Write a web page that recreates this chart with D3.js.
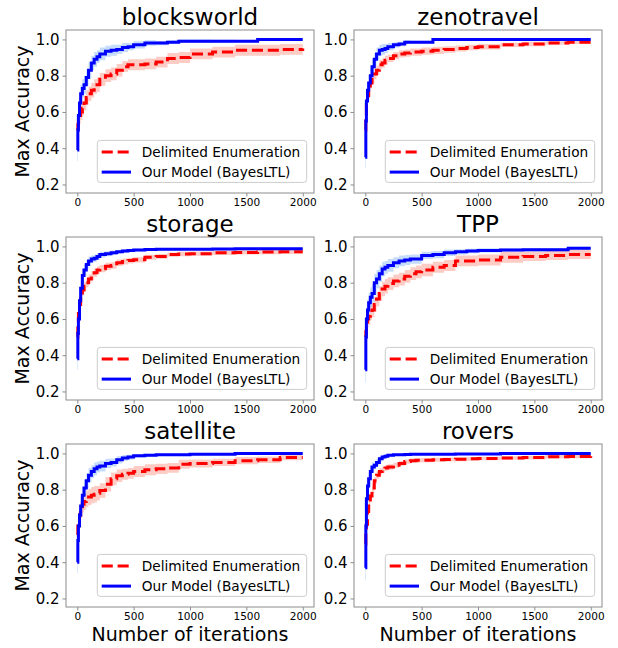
<!DOCTYPE html>
<html><head><meta charset="utf-8">
<script src="https://cdn.jsdelivr.net/npm/d3@7"></script>
<style>body{margin:0;background:#fff}svg{display:block}text{font-family:"DejaVu Sans",sans-serif}</style>
</head><body><svg id="c" width="618" height="648"></svg>
<script>
const iterations = [0,5,10,20,30,45,60,80,100,125,150,175,200,250,300,350,400,450,500,600,700,800,900,1000,1200,1400,1600,1800,2000];
const panelTitles = ["blocksworld","zenotravel","storage","TPP","satellite","rovers"];
const seriesNames = ["Delimited Enumeration","Our Model (BayesLTL)"];
const xTicks = [0,500,1000,1500,2000];
const yTicks = [0.2,0.4,0.6,0.8,1.0];

const blocksworldDelimited = [0.50,0.53,0.55,0.58,0.60,0.62,0.65,0.68,0.70,0.72,0.74,0.75,0.78,0.80,0.81,0.83,0.85,0.86,0.86,0.865,0.875,0.895,0.90,0.92,0.93,0.94,0.94,0.945,0.95];
const blocksworldDelimitedSpread = [0.05,0.05,0.05,0.045,0.045,0.04,0.04,0.04,0.04,0.04,0.04,0.04,0.035,0.035,0.035,0.035,0.03,0.03,0.03,0.03,0.03,0.03,0.03,0.03,0.03,0.03,0.03,0.03,0.03];
const blocksworldBayes = [0.39,0.50,0.58,0.65,0.70,0.73,0.75,0.79,0.83,0.87,0.89,0.905,0.92,0.935,0.94,0.945,0.955,0.96,0.97,0.98,0.98,0.985,0.99,0.99,0.99,0.99,1.0,1.0,1.0];
const blocksworldBayesSpread = [0.06,0.06,0.06,0.05,0.05,0.05,0.05,0.045,0.045,0.04,0.04,0.035,0.035,0.03,0.03,0.025,0.025,0.02,0.02,0.015,0.012,0.01,0.01,0.01,0.008,0.006,0.004,0.004,0.004];

const zenotravelDelimited = [0.50,0.58,0.64,0.69,0.72,0.76,0.79,0.81,0.83,0.86,0.87,0.885,0.895,0.91,0.92,0.925,0.93,0.93,0.935,0.94,0.945,0.95,0.955,0.96,0.97,0.975,0.98,0.985,0.987];
const zenotravelDelimitedSpread = [0.04,0.04,0.035,0.035,0.03,0.03,0.03,0.03,0.025,0.025,0.025,0.025,0.02,0.02,0.02,0.02,0.02,0.02,0.02,0.02,0.018,0.016,0.015,0.015,0.012,0.012,0.01,0.01,0.01];
const zenotravelBayes = [0.35,0.55,0.66,0.72,0.76,0.80,0.85,0.89,0.92,0.94,0.945,0.95,0.96,0.97,0.975,0.985,0.985,0.985,0.985,1.0,1.0,1.0,1.0,1.0,1.0,1.0,1.0,1.0,1.0];
const zenotravelBayesSpread = [0.06,0.05,0.05,0.045,0.045,0.04,0.04,0.035,0.035,0.03,0.03,0.025,0.02,0.015,0.012,0.01,0.008,0.008,0.008,0.004,0.003,0.003,0.003,0.003,0.003,0.003,0.003,0.003,0.003];

const storageDelimited = [0.50,0.58,0.63,0.68,0.72,0.76,0.78,0.80,0.82,0.84,0.855,0.87,0.877,0.89,0.895,0.91,0.917,0.922,0.927,0.94,0.945,0.955,0.958,0.96,0.965,0.967,0.969,0.97,0.97];
const storageDelimitedSpread = [0.04,0.04,0.035,0.03,0.03,0.03,0.025,0.025,0.025,0.025,0.022,0.02,0.02,0.02,0.018,0.018,0.016,0.016,0.015,0.014,0.013,0.012,0.012,0.012,0.012,0.012,0.012,0.012,0.012];
const storageBayes = [0.38,0.52,0.60,0.70,0.77,0.84,0.87,0.90,0.92,0.93,0.935,0.945,0.955,0.96,0.965,0.97,0.975,0.978,0.98,0.983,0.985,0.985,0.985,0.985,0.986,0.987,0.987,0.987,0.987];
const storageBayesSpread = [0.06,0.05,0.05,0.045,0.04,0.035,0.03,0.025,0.025,0.02,0.02,0.018,0.016,0.014,0.012,0.01,0.01,0.008,0.008,0.006,0.006,0.006,0.006,0.006,0.006,0.006,0.006,0.006,0.006];

const tppDelimited = [0.50,0.53,0.56,0.60,0.615,0.635,0.65,0.68,0.71,0.74,0.765,0.78,0.795,0.81,0.82,0.835,0.85,0.86,0.87,0.885,0.895,0.92,0.92,0.925,0.94,0.945,0.95,0.955,0.955];
const tppDelimitedSpread = [0.05,0.05,0.05,0.045,0.045,0.04,0.04,0.04,0.04,0.04,0.04,0.04,0.035,0.035,0.035,0.035,0.035,0.035,0.035,0.03,0.03,0.03,0.03,0.03,0.03,0.025,0.025,0.025,0.025];
const tppBayes = [0.32,0.50,0.60,0.65,0.69,0.72,0.74,0.80,0.82,0.85,0.875,0.885,0.895,0.91,0.92,0.925,0.93,0.93,0.95,0.955,0.965,0.97,0.975,0.978,0.98,0.982,0.982,0.99,0.99];
const tppBayesSpread = [0.07,0.07,0.06,0.06,0.055,0.055,0.05,0.05,0.05,0.045,0.04,0.035,0.035,0.03,0.03,0.028,0.025,0.025,0.02,0.02,0.018,0.015,0.012,0.012,0.01,0.01,0.01,0.008,0.008];

const satelliteDelimited = [0.55,0.60,0.63,0.66,0.69,0.72,0.735,0.75,0.76,0.77,0.775,0.78,0.795,0.83,0.86,0.877,0.885,0.89,0.90,0.91,0.915,0.92,0.94,0.945,0.95,0.96,0.965,0.978,0.978];
const satelliteDelimitedSpread = [0.05,0.05,0.05,0.045,0.045,0.045,0.045,0.045,0.045,0.045,0.045,0.04,0.04,0.04,0.035,0.035,0.03,0.03,0.03,0.03,0.028,0.027,0.025,0.022,0.02,0.02,0.018,0.015,0.015];
const satelliteBayes = [0.40,0.52,0.60,0.66,0.71,0.77,0.81,0.85,0.88,0.90,0.915,0.925,0.93,0.945,0.95,0.965,0.975,0.98,0.987,0.99,0.993,0.993,0.993,0.995,0.995,1.0,1.0,1.0,1.0];
const satelliteBayesSpread = [0.06,0.06,0.055,0.05,0.05,0.045,0.045,0.04,0.04,0.035,0.035,0.03,0.03,0.025,0.022,0.02,0.016,0.013,0.01,0.008,0.006,0.006,0.006,0.005,0.005,0.003,0.003,0.003,0.003];

const roversDelimited = [0.50,0.56,0.61,0.68,0.72,0.765,0.81,0.85,0.88,0.90,0.91,0.92,0.925,0.935,0.945,0.955,0.96,0.962,0.963,0.965,0.966,0.968,0.97,0.972,0.975,0.977,0.982,0.983,0.984];
const roversDelimitedSpread = [0.04,0.04,0.035,0.03,0.03,0.025,0.025,0.02,0.02,0.018,0.016,0.015,0.015,0.014,0.013,0.012,0.012,0.012,0.012,0.011,0.011,0.011,0.01,0.01,0.01,0.01,0.01,0.01,0.01];
const roversBayes = [0.37,0.60,0.75,0.82,0.86,0.90,0.925,0.935,0.95,0.97,0.98,0.985,0.99,0.993,0.993,0.994,0.995,0.995,0.996,0.996,0.996,0.997,0.997,0.997,1.0,1.0,1.0,1.0,1.0];
const roversBayesSpread = [0.07,0.06,0.05,0.04,0.035,0.03,0.025,0.02,0.018,0.014,0.012,0.01,0.008,0.006,0.005,0.004,0.004,0.004,0.004,0.003,0.003,0.003,0.003,0.003,0.002,0.002,0.002,0.002,0.002];

const panelData = [
  [blocksworldDelimited, blocksworldDelimitedSpread, blocksworldBayes, blocksworldBayesSpread],
  [zenotravelDelimited, zenotravelDelimitedSpread, zenotravelBayes, zenotravelBayesSpread],
  [storageDelimited, storageDelimitedSpread, storageBayes, storageBayesSpread],
  [tppDelimited, tppDelimitedSpread, tppBayes, tppBayesSpread],
  [satelliteDelimited, satelliteDelimitedSpread, satelliteBayes, satelliteBayesSpread],
  [roversDelimited, roversDelimitedSpread, roversBayes, roversBayesSpread]
];

const svg = d3.select("#c");
const colLeft = [66, 354], rowTop = [30, 237, 444];
const W = 248, H = 163;
const x = d3.scaleLinear().domain([-100, 2100]).range([0, W]);
const y = d3.scaleLinear().domain([0.153, 1.052]).range([H, 0]);
const spineColor = "#8c8c8c";

panelTitles.forEach((title, i) => {
  const col = i % 2, row = Math.floor(i / 2);
  const g = svg.append("g").attr("transform", `translate(${colLeft[col]},${rowTop[row]})`);
  const [de, deS, bl, blS] = panelData[i];
  const deRows = iterations.map((it, k) => ({it, v: de[k], s: deS[k]}));
  const blRows = iterations.map((it, k) => ({it, v: bl[k], s: blS[k]}));

  g.append("clipPath").attr("id", "clip" + i).append("rect").attr("width", W).attr("height", H);
  const plot = g.append("g").attr("clip-path", `url(#clip${i})`);

  const area = d3.area().curve(d3.curveStepAfter).x(d => x(d.it)).y0(d => y(d.v - d.s)).y1(d => y(d.v + d.s));
  const line = d3.line().curve(d3.curveStepAfter).x(d => x(d.it)).y(d => y(d.v));

  plot.append("path").datum(deRows).attr("d", area).attr("fill", "rgb(245,110,90)").attr("fill-opacity", 0.35);
  plot.append("path").datum(blRows).attr("d", area).attr("fill", "rgb(40,130,240)").attr("fill-opacity", 0.27);
  plot.append("path").datum(deRows).attr("d", line).attr("fill", "none").attr("stroke", "red").attr("stroke-width", 3).attr("stroke-dasharray", "11.1,4.8");
  plot.append("path").datum(blRows).attr("d", line).attr("fill", "none").attr("stroke", "blue").attr("stroke-width", 3);

  const xa = g.append("g").attr("transform", `translate(0,${H})`).call(d3.axisBottom(x).tickValues(xTicks).tickSize(3.5).tickPadding(2.5).tickFormat(d3.format("d")));
  xa.select(".domain").remove();
  xa.selectAll("line").attr("stroke", spineColor);
  xa.selectAll("text").attr("font-size", "10.5px").attr("fill", "#000").attr("font-family", "DejaVu Sans");
  const ya = g.append("g").call(d3.axisLeft(y).tickValues(yTicks).tickSize(3.5).tickPadding(3).tickFormat(d3.format(".1f")));
  ya.select(".domain").remove();
  ya.selectAll("line").attr("stroke", spineColor);
  ya.selectAll("text").attr("font-size", "15px").attr("fill", "#000").attr("font-family", "DejaVu Sans");

  g.append("rect").attr("width", W).attr("height", H).attr("fill", "none").attr("stroke", spineColor).attr("stroke-width", 1);

  g.append("text").attr("x", W / 2).attr("y", -5).attr("text-anchor", "middle").attr("font-size", "23px").text(title);

  const lg = g.append("g").attr("transform", `translate(${31.3},${H - 52.6})`);
  lg.append("rect").attr("width", 209.4).attr("height", 42).attr("rx", 3).attr("fill", "#fff").attr("fill-opacity", 0.8).attr("stroke", "#cccccc").attr("stroke-width", 1);
  seriesNames.forEach((name, k) => {
    const yy = 11.7 + k * 20;
    lg.append("line").attr("x1", 4.4).attr("x2", 33.7).attr("y1", yy).attr("y2", yy)
      .attr("stroke", k === 0 ? "red" : "blue").attr("stroke-width", 3)
      .attr("stroke-dasharray", k === 0 ? "11.1,4.8" : null);
    lg.append("text").attr("x", 44.4).attr("y", yy).attr("dy", "0.36em").attr("font-size", "13.7px").text(name);
  });

  if (col === 0) {
    g.append("text").attr("transform", `translate(${29 - colLeft[0]},${H / 2}) rotate(-90)`).attr("text-anchor", "middle").attr("font-size", "19px").text("Max Accuracy");
  }
  if (row === 2) {
    g.append("text").attr("x", W / 2).attr("y", H + 34).attr("text-anchor", "middle").attr("font-size", "19px").text("Number of iterations");
  }
});
</script></body></html>
